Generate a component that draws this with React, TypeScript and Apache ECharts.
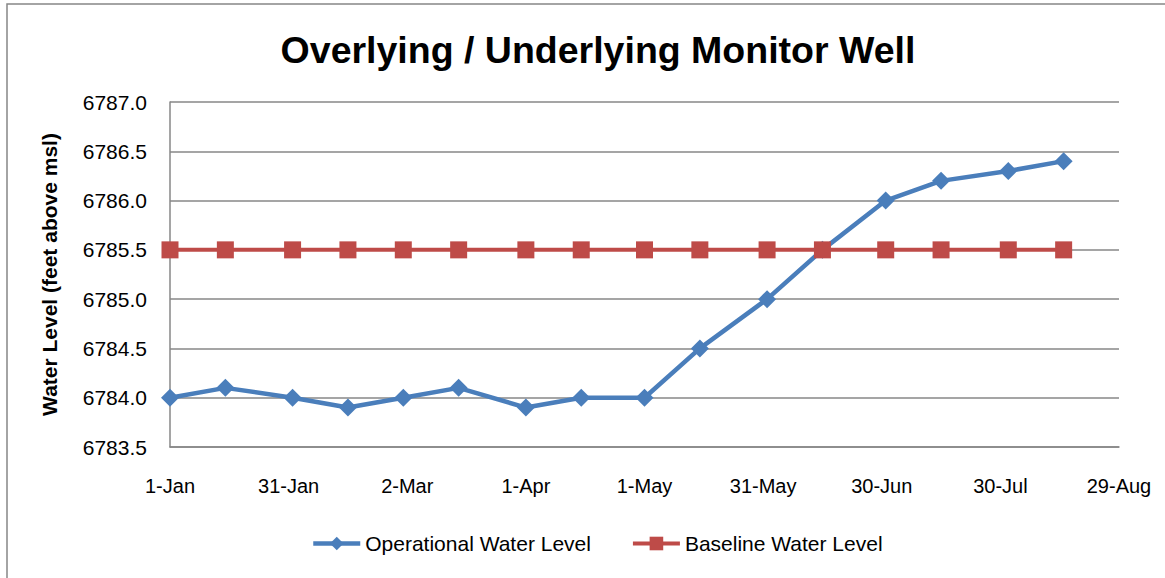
import React, { useEffect, useRef } from "react";
import * as echarts from "echarts";

const YEAR_START = "2013-01-01";
const dates = [
  "2013-01-01", "2013-01-15", "2013-02-01", "2013-02-15", "2013-03-01", "2013-03-15",
  "2013-04-01", "2013-04-15", "2013-05-01", "2013-05-15", "2013-06-01", "2013-06-15",
  "2013-07-01", "2013-07-15", "2013-08-01", "2013-08-15",
];
const operational = [
  6784.0, 6784.1, 6784.0, 6783.9, 6784.0, 6784.1, 6783.9, 6784.0,
  6784.0, 6784.5, 6785.0, 6785.5, 6786.0, 6786.2, 6786.3, 6786.4,
];
const baseline = [
  6785.5, 6785.5, 6785.5, 6785.5, 6785.5, 6785.5, 6785.5, 6785.5,
  6785.5, 6785.5, 6785.5, 6785.5, 6785.5, 6785.5, 6785.5, 6785.5,
];
const xMinDay = 0;
const xMaxDay = 240;
const xStepDays = 30;
const yMin = 6783.5;
const yMax = 6787.0;
const yStep = 0.5;
const monthNames = ["Jan", "Feb", "Mar", "Apr", "May", "Jun", "Jul", "Aug", "Sep", "Oct", "Nov", "Dec"];

const DAY = 86400000;
const t0 = Date.parse(YEAR_START + "T00:00:00Z");
const toDay = (s: string) => Math.round((Date.parse(s + "T00:00:00Z") - t0) / DAY);
const dayLabel = (d: number) => {
  const dt = new Date(t0 + d * DAY);
  return dt.getUTCDate() + "-" + monthNames[dt.getUTCMonth()];
};

const FONT = "'Liberation Sans', Arial, sans-serif";
const GRID_COLOR = "#878787";
const BLUE = "#4A7EBB";
const RED = "#BE4B48";

export default function App() {
  const ref = useRef<HTMLDivElement>(null);
  useEffect(() => {
    if (!ref.current) return;
    const chart = echarts.init(ref.current, null, { renderer: "svg" });
    chart.setOption({
      animation: false,
      backgroundColor: "#ffffff",
      title: {
        text: "Overlying / Underlying Monitor Well",
        left: 593,
        top: 26,
        textAlign: "center",
        textStyle: { fontFamily: FONT, fontWeight: "bold", fontSize: 37.5, color: "#000" },
      },
      graphic: [
        {
          type: "rect",
          shape: { x: 7, y: 4, width: 1200, height: 700 },
          style: { fill: "none", stroke: GRID_COLOR, lineWidth: 1.5 },
          silent: true,
        },
      ],
      legend: {
        bottom: 19,
        left: 306,
        itemWidth: 47,
        itemHeight: 17,
        itemGap: 40,
        textStyle: { fontFamily: FONT, fontSize: 21, color: "#000" },
        data: [
          { name: "Operational Water Level", lineStyle: { width: 4.5, color: BLUE } },
          { name: "Baseline Water Level", lineStyle: { width: 4, color: RED } },
        ],
      },
      grid: { left: 170, right: 46, top: 102, bottom: 131 },
      xAxis: {
        type: "value",
        min: xMinDay,
        max: xMaxDay,
        interval: xStepDays,
        axisLine: { show: true, lineStyle: { color: GRID_COLOR, width: 1.5 } },
        axisTick: { show: false },
        splitLine: { show: false },
        axisLabel: {
          margin: 29,
          fontFamily: FONT,
          fontSize: 20,
          color: "#000",
          formatter: (v: number) => dayLabel(v),
        },
      },
      yAxis: {
        type: "value",
        min: yMin,
        max: yMax,
        interval: yStep,
        name: "Water Level (feet above msl)",
        nameLocation: "middle",
        nameRotate: 90,
        nameGap: 110,
        nameTextStyle: { fontFamily: FONT, fontWeight: "bold", fontSize: 21, color: "#000" },
        axisLine: { show: true, lineStyle: { color: GRID_COLOR, width: 1.5 } },
        axisTick: { show: false },
        splitLine: { show: true, lineStyle: { color: GRID_COLOR, width: 1.5 } },
        axisLabel: {
          margin: 23,
          fontFamily: FONT,
          fontSize: 21,
          color: "#000",
          formatter: (v: number) => v.toFixed(1),
        },
      },
      series: [
        {
          name: "Operational Water Level",
          type: "line",
          data: dates.map((d, i) => [toDay(d), operational[i]]),
          symbol: "diamond",
          symbolSize: 18,
          lineStyle: { color: BLUE, width: 4.5 },
          itemStyle: { color: BLUE },
        },
        {
          name: "Baseline Water Level",
          type: "line",
          data: dates.map((d, i) => [toDay(d), baseline[i]]),
          symbol: "rect",
          symbolSize: 17,
          lineStyle: { color: RED, width: 4 },
          itemStyle: { color: RED },
        },
      ],
    });
    return () => chart.dispose();
  }, []);
  return (
    <div
      ref={ref}
      style={{ position: "absolute", left: 0, top: 0, width: 1165, height: 578 }}
    />
  );
}
